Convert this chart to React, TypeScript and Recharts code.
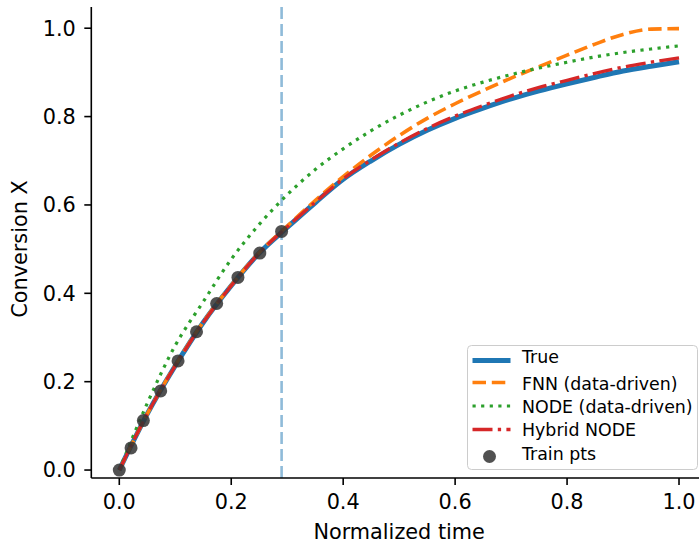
import {
  ComposedChart,
  Line,
  Scatter,
  XAxis,
  YAxis,
  ReferenceLine,
} from "recharts";

const tGrid = [
  0, 0.05, 0.1, 0.15, 0.2, 0.25, 0.3, 0.35, 0.4, 0.45, 0.5, 0.55, 0.6, 0.65,
  0.7, 0.75, 0.8, 0.85, 0.9, 0.95, 1.0,
];
const trueX = [
  0, 0.127, 0.236, 0.334, 0.417, 0.491, 0.549, 0.605, 0.658, 0.7, 0.737,
  0.769, 0.796, 0.819, 0.84, 0.858, 0.874, 0.889, 0.903, 0.914, 0.924,
];
const fnnX = [
  0, 0.127, 0.237, 0.335, 0.418, 0.492, 0.552, 0.61, 0.664, 0.713, 0.757,
  0.796, 0.829, 0.859, 0.887, 0.913, 0.939, 0.964, 0.986, 0.998, 0.999,
];
const nodeX = [
  0, 0.151, 0.282, 0.381, 0.477, 0.556, 0.623, 0.68, 0.727, 0.768, 0.803,
  0.833, 0.858, 0.878, 0.895, 0.91, 0.923, 0.935, 0.945, 0.953, 0.96,
];
const hybridX = [
  0, 0.127, 0.236, 0.334, 0.417, 0.491, 0.55, 0.606, 0.659, 0.702, 0.74,
  0.773, 0.801, 0.825, 0.847, 0.866, 0.882, 0.898, 0.912, 0.923, 0.933,
];
const trainT = [0, 0.021, 0.043, 0.074, 0.105, 0.138, 0.174, 0.212, 0.251, 0.29];
const trainX = [0, 0.05, 0.112, 0.179, 0.247, 0.313, 0.377, 0.436, 0.491, 0.54];
const trainEnd = 0.29;
const xTicks = [0, 0.2, 0.4, 0.6, 0.8, 1.0];
const yTicks = [0, 0.2, 0.4, 0.6, 0.8, 1.0];

const FONT = "DejaVu Sans, sans-serif";

const toRows = (ys: number[]) => tGrid.map((t, i) => ({ t, y: ys[i] }));
const trainRows = trainT.map((t, i) => ({ t, y: trainX[i] }));

const series = [
  { name: "True", data: toRows(trueX), color: "#1f77b4", width: 5, dash: undefined as string | undefined },
  { name: "FNN (data-driven)", data: toRows(fnnX), color: "#ff7f0e", width: 3.6, dash: "13.5 5.8" },
  { name: "NODE (data-driven)", data: toRows(nodeX), color: "#2ca02c", width: 3.2, dash: "3.2 5.4" },
  { name: "Hybrid NODE", data: toRows(hybridX), color: "#d62728", width: 3.3, dash: "20 5.3 3.3 5.3" },
];

const tick = { fontSize: 20.8, fill: "#000", fontFamily: FONT };

function LegendBox() {
  const rows = [
    { base: 18, mid: 15.5 },
    { base: 44.5, mid: 37.5 },
    { base: 68, mid: 61 },
    { base: 91, mid: 84.5 },
    { base: 115, mid: 111.5 },
  ];
  return (
    <svg
      width={231}
      height={125}
      style={{ position: "absolute", left: 466.5, top: 344.5 }}
    >
      <rect x={0.5} y={0.5} width={230} height={124} rx={4} fill="#fff" fillOpacity={0.8} stroke="#cccccc" />
      {series.map((s, i) => (
        <g key={s.name}>
          <line
            x1={5.5}
            x2={43.5}
            y1={rows[i].mid}
            y2={rows[i].mid}
            stroke={s.color}
            strokeWidth={s.width}
            strokeDasharray={s.dash}
          />
          <text x={55} y={rows[i].base} fontSize={17.4} fontFamily={FONT} fill="#000">
            {s.name}
          </text>
        </g>
      ))}
      <circle cx={22.5} cy={rows[4].mid} r={6.5} fill="#333" fillOpacity={0.85} />
      <text x={55} y={rows[4].base} fontSize={17.4} fontFamily={FONT} fill="#000">
        Train pts
      </text>
    </svg>
  );
}

export default function App() {
  return (
    <div
      style={{
        position: "absolute",
        left: 0,
        top: 0,
        width: 699,
        height: 544,
        overflow: "hidden",
        background: "#fff",
      }}
    >
      <ComposedChart width={722} height={544} margin={{ top: 7, right: 15, bottom: 0, left: 0 }}>
        <XAxis
          xAxisId="top"
          orientation="top"
          type="number"
          dataKey="t"
          domain={[-0.05, 1.05]}
          height={0}
          tick={false}
          tickLine={false}
          axisLine={{ stroke: "#000", strokeWidth: 1.6 }}
        />
        <XAxis
          type="number"
          dataKey="t"
          domain={[-0.05, 1.05]}
          ticks={xTicks}
          interval={0}
          height={66}
          tickFormatter={(v: number) => v.toFixed(1)}
          tick={tick}
          tickSize={7}
          tickMargin={9.5}
          tickLine={{ stroke: "#000", strokeWidth: 1.6 }}
          axisLine={{ stroke: "#000", strokeWidth: 1.6 }}
          label={{
            value: "Normalized time",
            position: "insideBottom",
            offset: 5,
            fontSize: 20.8,
            fill: "#000",
            fontFamily: FONT,
          }}
        />
        <YAxis
          type="number"
          domain={[-0.018, 1.048]}
          ticks={yTicks}
          interval={0}
          width={91.3}
          tickFormatter={(v: number) => v.toFixed(1)}
          tick={tick}
          tickSize={7}
          tickMargin={8.5}
          tickLine={{ stroke: "#000", strokeWidth: 1.6 }}
          axisLine={{ stroke: "#000", strokeWidth: 1.6 }}
          label={{
            content: () => (
              <text
                x={27}
                y={249}
                transform="rotate(-90, 27, 249)"
                textAnchor="middle"
                fontSize={20.8}
                fontFamily={FONT}
                fill="#000"
              >
                Conversion X
              </text>
            ),
          }}
        />
        <ReferenceLine
          x={trainEnd}
          stroke="#1f77b4"
          strokeOpacity={0.5}
          strokeWidth={2.6}
          strokeDasharray="12 5"
        />
        <Scatter
          data={trainRows}
          dataKey="y"
          isAnimationActive={false}
          shape={(p: any) => (
            <circle cx={p.cx} cy={p.cy} r={6.5} fill="#333" fillOpacity={0.85} />
          )}
        />
        {series.map((s) => (
          <Line
            key={s.name}
            data={s.data}
            dataKey="y"
            type="monotone"
            stroke={s.color}
            strokeWidth={s.width}
            strokeDasharray={s.dash}
            dot={false}
            activeDot={false}
            isAnimationActive={false}
          />
        ))}
      </ComposedChart>
      <LegendBox />
    </div>
  );
}
